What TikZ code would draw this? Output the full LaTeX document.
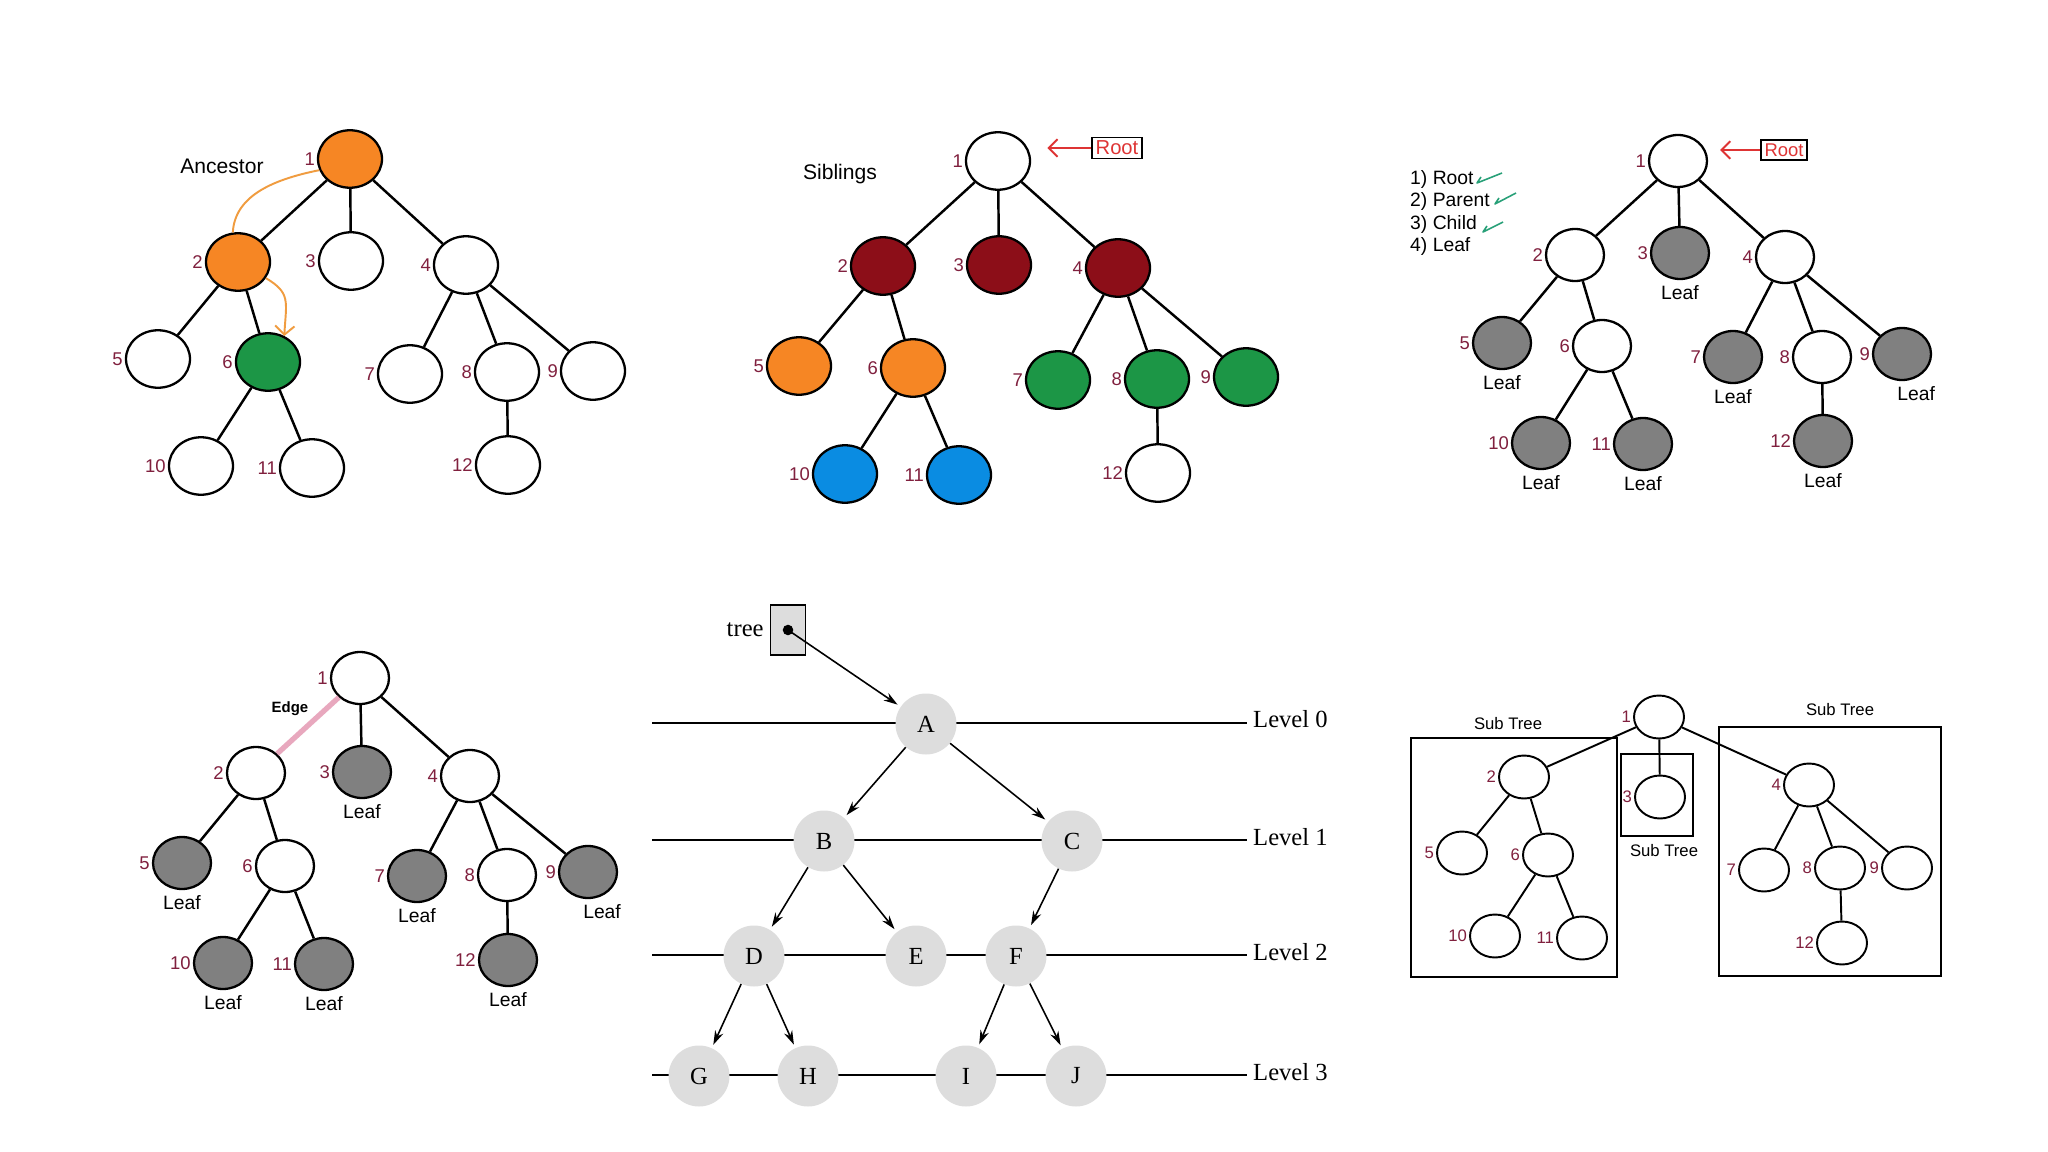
\documentclass[tikz,border=0pt]{standalone}
\usepackage{fontspec}
\setmainfont{Liberation Sans}
\newfontfamily\levelfont{Liberation Serif}
\usepackage{tikz}
\usetikzlibrary{shapes.geometric, arrows.meta, positioning}

\definecolor{numred}{RGB}{128,32,62}
\definecolor{nodeorange}{RGB}{246,134,36}
\definecolor{nodegreen}{RGB}{28,150,70}
\definecolor{nodedred}{RGB}{140,14,24}
\definecolor{nodeblue}{RGB}{10,140,226}
\definecolor{leafgray}{RGB}{128,128,128}
\definecolor{levgray}{RGB}{221,221,221}
\definecolor{rootred}{RGB}{222,52,52}
\definecolor{ancorange}{RGB}{240,156,64}
\definecolor{edgepink}{RGB}{232,168,190}
\definecolor{checkgreen}{RGB}{40,160,120}

\begin{document}
\begin{tikzpicture}[x=0.02cm, y=-0.02cm,
  vtx/.style={ellipse, draw=black, line width=1.3pt, fill=white,
              minimum width=1.28cm, minimum height=1.15cm, inner sep=0pt},
  smallvtx/.style={vtx, minimum width=1.16cm, minimum height=1.04cm},
  tinyvtx/.style={vtx, line width=1.1pt, minimum width=1.0cm, minimum height=0.86cm},
  num/.style={text=numred, font=\fontsize{10.5}{12}\selectfont, inner sep=1pt},
  tinynum/.style={num, font=\fontsize{9.5}{11}\selectfont},
  leaftxt/.style={font=\fontsize{11}{13}\selectfont, inner sep=1pt, yshift=-2pt},
  heading/.style={font=\fontsize{12}{14}\selectfont},
  link/.style={line width=1.4pt},
  thinlink/.style={line width=1.1pt},
  rootbox/.style={draw=black, line width=0.9pt, text=rootred, inner sep=2pt,
                  font=\fontsize{11.5}{13}\selectfont},
  rootarrow/.style={-{Straight Barb[length=5pt, width=10pt]}, rootred, line width=1.1pt},
  ancpath/.style={ancorange, line width=1.1pt},
  tick/.style={checkgreen, line width=0.9pt, line join=round},
  levnode/.style={circle, fill=levgray, minimum size=1.22cm,
                  inner sep=0pt, font=\levelfont\fontsize{14}{16}\selectfont},
  levlbl/.style={font=\levelfont\fontsize{14}{16}\selectfont},
  levline/.style={line width=0.9pt},
  ptr/.style={-{Stealth[length=8pt, width=5pt]}, line width=0.9pt, shorten >=2pt},
  subbox/.style={line width=1.1pt},
  subtxt/.style={font=\fontsize{9.5}{11}\selectfont}
]
\useasboundingbox (0,0) rectangle (2048,1152);
\fill[white] (0,0) rectangle (2048,1152);

% ancestor
\node[heading] (anctxt) at (222,166) {Ancestor};
\node[vtx, fill=nodeorange, label={[num]left:1}] (a1) at (350,159) {};
\node[vtx, fill=nodeorange, label={[num]left:2}] (a2) at (238,262) {};
\node[vtx, label={[num]left:3}] (a3) at (351,261) {};
\node[vtx, label={[num]left:4}] (a4) at (466,265) {};
\node[vtx, label={[num]left:5}] (a5) at (158,359) {};
\node[vtx, fill=nodegreen, label={[num]left:6}] (a6) at (268,362) {};
\node[vtx, label={[num]left:7}] (a7) at (410,374) {};
\node[vtx, label={[num]left:8}] (a8) at (507,372) {};
\node[vtx, label={[num]left:9}] (a9) at (593,371) {};
\node[vtx, label={[num]left:10}] (a10) at (201,466) {};
\node[vtx, label={[num]left:11}] (a11) at (312,468) {};
\node[vtx, label={[num]left:12}] (a12) at (508,465) {};
\draw[link] (a1) -- (a2) (a1) -- (a3) (a1) -- (a4)
  (a2) -- (a5) (a2) -- (a6) (a6) -- (a10) (a6) -- (a11)
  (a4) -- (a7) (a4) -- (a8) (a4) -- (a9) (a8) -- (a12);
\draw[ancpath] (a1.200) .. controls +(-50,10) and +(2,-35) .. (a2.100);
\draw[ancpath, -{Straight Barb[length=5pt, width=11pt]}]
  (a2.-30) .. controls +(25,15) and +(2,-35) .. (a6.58);

% siblings
\node[heading] (sibtxt) at (840,174) {Siblings};
\node[vtx, label={[num]left:1}] (s1) at (998,161) {};
\node[vtx, fill=nodedred, label={[num]left:2}] (s2) at (883,266) {};
\node[vtx, fill=nodedred, label={[num]left:3}] (s3) at (999,265) {};
\node[vtx, fill=nodedred, label={[num]left:4}] (s4) at (1118,268) {};
\node[vtx, fill=nodeorange, label={[num]left:5}] (s5) at (799,366) {};
\node[vtx, fill=nodeorange, label={[num]left:6}] (s6) at (913,368) {};
\node[vtx, fill=nodegreen, label={[num]left:7}] (s7) at (1058,380) {};
\node[vtx, fill=nodegreen, label={[num]left:8}] (s8) at (1157,379) {};
\node[vtx, fill=nodegreen, label={[num]left:9}] (s9) at (1246,377) {};
\node[vtx, fill=nodeblue, label={[num]left:10}] (s10) at (845,474) {};
\node[vtx, fill=nodeblue, label={[num]left:11}] (s11) at (959,475) {};
\node[vtx, label={[num]left:12}] (s12) at (1158,473) {};
\draw[link] (s1) -- (s2) (s1) -- (s3) (s1) -- (s4)
  (s2) -- (s5) (s2) -- (s6) (s6) -- (s10) (s6) -- (s11)
  (s4) -- (s7) (s4) -- (s8) (s4) -- (s9) (s8) -- (s12);
\node[rootbox] (sbox) at (1117,148) {Root};
\coordinate[left=0.88cm of sbox] (sarr);
\draw[rootarrow] (sbox) -- (sarr);

% leaves
\node[anchor=west, align=left, font=\fontsize{11}{12.8}\selectfont] (steps) at (1404,213)
  {1) Root\\2) Parent\\3) Child\\4) Leaf};
\draw[tick] (1481,177) -- (1477,183) -- (1502,173);
\draw[tick] (1499,198) -- (1495,204) -- (1516,193);
\draw[tick] (1487,226) -- (1483,232) -- (1503,222);
\node[smallvtx, label={[num]left:1}] (l1) at (1678,161) {};
\node[smallvtx, label={[num]left:2}] (l2) at (1575,255) {};
\node[smallvtx, fill=leafgray, label={[num]left:3}, label={[leaftxt]below:Leaf}] (l3) at (1680,253) {};
\node[smallvtx, label={[num]left:4}] (l4) at (1785,257) {};
\node[smallvtx, fill=leafgray, label={[num]left:5}, label={[leaftxt]below:Leaf}] (l5) at (1502,343) {};
\node[smallvtx, label={[num]left:6}] (l6) at (1602,346) {};
\node[smallvtx, fill=leafgray, label={[num]left:7}, label={[leaftxt]below:Leaf}] (l7) at (1733,357) {};
\node[smallvtx, label={[num]left:8}] (l8) at (1822,357) {};
\node[smallvtx, fill=leafgray, label={[num]left:9}, label={[leaftxt, xshift=8pt]below:Leaf}] (l9) at (1902,354) {};
\node[smallvtx, fill=leafgray, label={[num]left:10}, label={[leaftxt]below:Leaf}] (l10) at (1541,443) {};
\node[smallvtx, fill=leafgray, label={[num]left:11}, label={[leaftxt]below:Leaf}] (l11) at (1643,444) {};
\node[smallvtx, fill=leafgray, label={[num]left:12}, label={[leaftxt]below:Leaf}] (l12) at (1823,441) {};
\draw[link] (l1) -- (l2) (l1) -- (l3) (l1) -- (l4)
  (l2) -- (l5) (l2) -- (l6) (l6) -- (l10) (l6) -- (l11)
  (l4) -- (l7) (l4) -- (l8) (l4) -- (l9) (l8) -- (l12);
\node[rootbox, font=\fontsize{10.5}{12}\selectfont] (lbox) at (1784,150) {Root};
\coordinate[left=0.8cm of lbox] (larr);
\draw[rootarrow] (lbox) -- (larr);

% edge
\node[smallvtx, label={[num]left:1}] (e1) at (360,678) {};
\node[smallvtx, label={[num]left:2}] (e2) at (256,773) {};
\node[smallvtx, fill=leafgray, label={[num]left:3}, label={[leaftxt]below:Leaf}] (e3) at (362,772) {};
\node[smallvtx, label={[num]left:4}] (e4) at (470,776) {};
\node[smallvtx, fill=leafgray, label={[num]left:5}, label={[leaftxt]below:Leaf}] (e5) at (182,863) {};
\node[smallvtx, label={[num]left:6}] (e6) at (285,866) {};
\node[smallvtx, fill=leafgray, label={[num]left:7}, label={[leaftxt]below:Leaf}] (e7) at (417,876) {};
\node[smallvtx, label={[num]left:8}] (e8) at (507,875) {};
\node[smallvtx, fill=leafgray, label={[num]left:9}, label={[leaftxt, xshift=8pt]below:Leaf}] (e9) at (588,872) {};
\node[smallvtx, fill=leafgray, label={[num]left:10}, label={[leaftxt]below:Leaf}] (e10) at (223,963) {};
\node[smallvtx, fill=leafgray, label={[num]left:11}, label={[leaftxt]below:Leaf}] (e11) at (324,964) {};
\node[smallvtx, fill=leafgray, label={[num]left:12}, label={[leaftxt]below:Leaf}] (e12) at (508,960) {};
\draw[edgepink, line width=3pt] (e1) -- (e2);
\draw[link] (e1) -- (e3) (e1) -- (e4)
  (e2) -- (e5) (e2) -- (e6) (e6) -- (e10) (e6) -- (e11)
  (e4) -- (e7) (e4) -- (e8) (e4) -- (e9) (e8) -- (e12);
\node[font=\bfseries\fontsize{8.5}{10}\selectfont] (edgetxt) at (290,709) {Edge};

% levels
\node[levlbl, anchor=west] (lev0) at (1247,719) {Level 0};
\node[levlbl, anchor=west] (lev1) at (1247,837) {Level 1};
\node[levlbl, anchor=west] (lev2) at (1247,952) {Level 2};
\node[levlbl, anchor=west] (lev3) at (1247,1072) {Level 3};
\coordinate (w0) at (652,723);
\coordinate (w1) at (652,840);
\coordinate (w2) at (652,955);
\coordinate (w3) at (652,1075);
\draw[levline] (w0) -- (w0 -| lev0.west);
\draw[levline] (w1) -- (w1 -| lev1.west);
\draw[levline] (w2) -- (w2 -| lev2.west);
\draw[levline] (w3) -- (w3 -| lev3.west);
\node[levnode] (A) at (926,724) {A};
\node[levnode] (B) at (824,841) {B};
\node[levnode] (C) at (1072,841) {C};
\node[levnode] (D) at (754,956) {D};
\node[levnode] (E) at (916,956) {E};
\node[levnode] (F) at (1016,956) {F};
\node[levnode] (G) at (699,1076) {G};
\node[levnode] (H) at (808,1076) {H};
\node[levnode] (I) at (966,1076) {I};
\node[levnode] (J) at (1076,1076) {J};
\node[draw=black, line width=0.8pt, fill=levgray, minimum width=0.7cm,
      minimum height=1.0cm] (tbox) at (788,630) {};
\node[levlbl, left=0pt of tbox] (treetxt) {tree};
\node[circle, fill=black, inner sep=0pt, minimum size=6pt] (tdot) at (tbox.center) {};
\draw[ptr] (tdot.center) -- (A);
\draw[ptr] (A) -- (B);
\draw[ptr] (A) -- (C);
\draw[ptr] (B) -- (D);
\draw[ptr] (B) -- (E);
\draw[ptr] (C) -- (F);
\draw[ptr] (D) -- (G);
\draw[ptr] (D) -- (H);
\draw[ptr] (F) -- (I);
\draw[ptr] (F) -- (J);

% sub trees
\draw[subbox] (1411,738) rectangle (1617,977);
\draw[subbox] (1621,754) rectangle (1693,836);
\draw[subbox] (1719,727) rectangle (1941,976);
\node[subtxt] (subl) at (1508,724) {Sub Tree};
\node[subtxt] (subm) at (1664,851) {Sub Tree};
\node[subtxt] (subr) at (1840,710) {Sub Tree};
\node[tinyvtx, label={[tinynum]left:1}] (t1) at (1659,717) {};
\node[tinyvtx, label={[tinynum]left:2}] (t2) at (1524,777) {};
\node[tinyvtx, label={[tinynum]left:3}] (t3) at (1660,797) {};
\node[tinyvtx, label={[tinynum]left:4}] (t4) at (1809,785) {};
\node[tinyvtx, label={[tinynum]left:5}] (t5) at (1462,853) {};
\node[tinyvtx, label={[tinynum]left:6}] (t6) at (1548,855) {};
\node[tinyvtx, label={[tinynum]left:7}] (t7) at (1764,870) {};
\node[tinyvtx, label={[tinynum]left:8}] (t8) at (1840,868) {};
\node[tinyvtx, label={[tinynum]left:9}] (t9) at (1907,868) {};
\node[tinyvtx, label={[tinynum]left:10}] (t10) at (1495,936) {};
\node[tinyvtx, label={[tinynum]left:11}] (t11) at (1582,938) {};
\node[tinyvtx, label={[tinynum]left:12}] (t12) at (1842,943) {};
\draw[thinlink] (t1) -- (t2) (t1) -- (t3) (t1) -- (t4)
  (t2) -- (t5) (t2) -- (t6) (t6) -- (t10) (t6) -- (t11)
  (t4) -- (t7) (t4) -- (t8) (t4) -- (t9) (t8) -- (t12);

\end{tikzpicture}
\end{document}
